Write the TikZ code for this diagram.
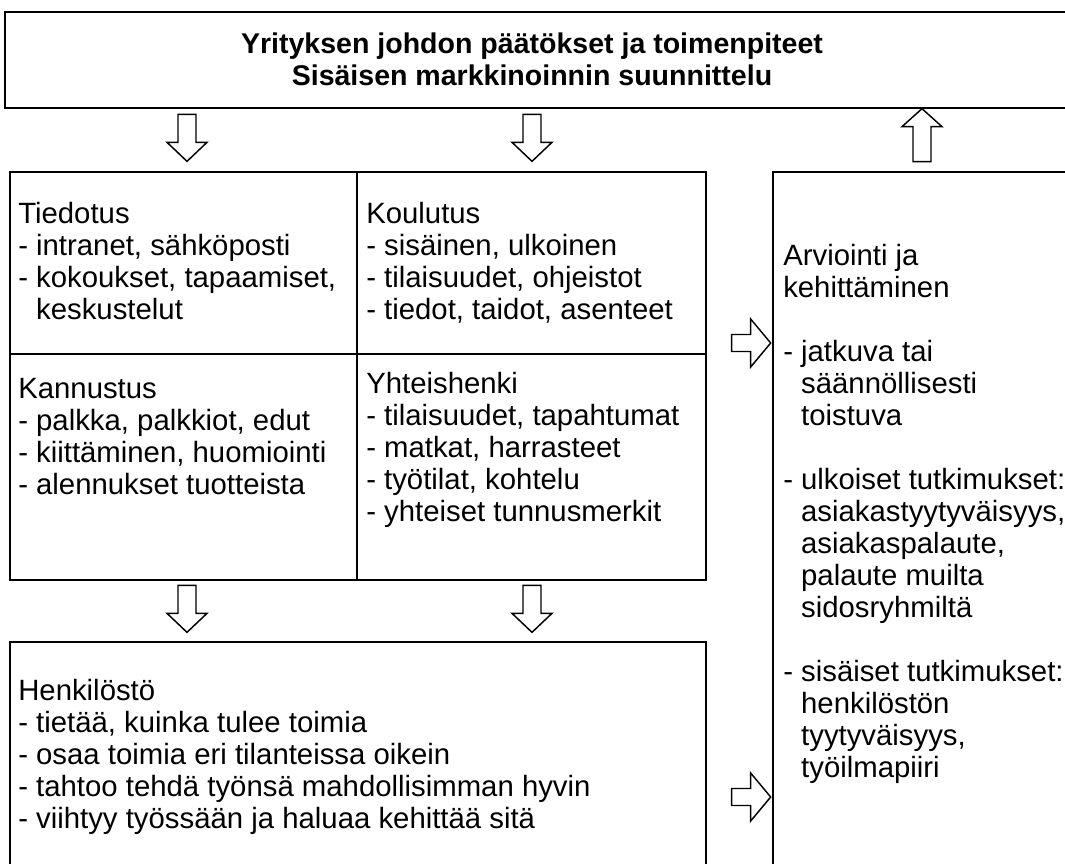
\documentclass[tikz,border=0pt]{standalone}
\usepackage{fontspec}
\setmainfont{Liberation Sans}
\usetikzlibrary{fit,calc}
\begin{document}
\begin{tikzpicture}[x=0.75pt,y=-0.75pt,
  box/.style={draw, line width=2pt, inner sep=0pt},
  % multi-line nodes: the base anchor sits on the baseline of the last line
  txt/.style={anchor=base west, align=left, inner sep=0pt,
    font=\fontsize{22pt}{24pt}\selectfont},
  heading/.style={anchor=base, align=center, inner sep=0pt,
    font=\fontsize{21.4pt}{23.3pt}\selectfont\bfseries},
  arrowline/.style={draw, line width=1.1pt, line join=miter, fill=white},
  pics/downarrow/.style={code={
    \path[arrowline] (-9,0) -- (9,0) -- (9,28) -- (20,28) -- (0,47)
      -- (-20,28) -- (-9,28) -- cycle;}},
  pics/uparrow/.style={code={
    \path[arrowline] (-9,0) -- (9,0) -- (9,-35) -- (20,-35) -- (0,-53)
      -- (-20,-35) -- (-9,-35) -- cycle;}},
  pics/rightarrow/.style={code={
    \path[arrowline] (0,-8.5) -- (19,-8.5) -- (19,-24) -- (39,0)
      -- (19,24) -- (19,8.5) -- (0,8.5) -- cycle;}}
]
\useasboundingbox (0,0) rectangle (1065,864);
\clip (0,0) rectangle (1065,864);

% boxes
\node[box, fit={(5,12) (1085,108)}] (top) {};
\node[box, fit={(10,172) (357,354)}] (info) {};
\node[box, fit={(357,172) (706,354)}] (train) {};
\node[box, fit={(10,354) (357,580)}] (reward) {};
\node[box, fit={(357,354) (706,580)}] (spirit) {};
\node[box, fit={(10,642) (706,890)}] (staff) {};
\node[box, fit={(773,172) (1085,890)}] (eval) {};

% texts
\node[heading] (headtxt) at (532,85)
  {Yrityksen johdon päätökset ja toimenpiteet\\Sisäisen markkinoinnin suunnittelu};
\node[txt] (infotxt) at (18,319)
  {Tiedotus\\- intranet, sähköposti\\- kokoukset, tapaamiset,\\\phantom{- }keskustelut};
\node[txt] (traintxt) at (366,319)
  {Koulutus\\- sisäinen, ulkoinen\\- tilaisuudet, ohjeistot\\- tiedot, taidot, asenteet};
\node[txt] (rewardtxt) at (18,494)
  {Kannustus\\- palkka, palkkiot, edut\\- kiittäminen, huomiointi\\- alennukset tuotteista};
\node[txt] (spirittxt) at (366,521)
  {Yhteishenki\\- tilaisuudet, tapahtumat\\- matkat, harrasteet\\- työtilat, kohtelu\\- yhteiset tunnusmerkit};
\node[txt] (stafftxt) at (18,828)
  {Henkilöstö\\- tietää, kuinka tulee toimia\\- osaa toimia eri tilanteissa oikein\\- tahtoo tehdä työnsä mahdollisimman hyvin\\- viihtyy työssään ja haluaa kehittää sitä};
\node[txt] (evaltxt) at (783,777)
  {Arviointi ja\\kehittäminen\\[24pt]- jatkuva tai\\\phantom{- }säännöllisesti\\\phantom{- }toistuva\\[24pt]- ulkoiset tutkimukset:\\\phantom{- }asiakastyytyväisyys,\\\phantom{- }asiakaspalaute,\\\phantom{- }palaute muilta\\\phantom{- }sidosryhmiltä\\[24pt]- sisäiset tutkimukset:\\\phantom{- }henkilöstön\\\phantom{- }tyytyväisyys,\\\phantom{- }työilmapiiri};

% block arrows between the boxes
\pic at ($(top.south -| 187,0)+(0,5)$) {downarrow};
\pic at ($(top.south -| 532,0)+(0,5)$) {downarrow};
\pic at ($(eval.north -| 922,0)+(0,-9)$) {uparrow};
\pic at ($(reward.south -| 187,0)+(0,4)$) {downarrow};
\pic at ($(spirit.south -| 532,0)+(0,4)$) {downarrow};
\pic at ($(eval.west |- 0,343)+(-40,0)$) {rightarrow};
\pic at ($(eval.west |- 0,797)+(-40,0)$) {rightarrow};
\end{tikzpicture}
\end{document}
